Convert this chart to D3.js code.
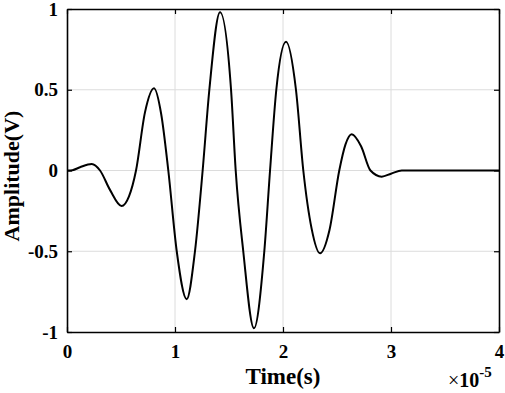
<!DOCTYPE html>
<html lang="en">
<head>
<meta charset="UTF-8">
<script src="https://cdn.jsdelivr.net/npm/d3@7"></script>
<style>
    body { margin: 0; background: #fff; }
    svg { display: block; font-family: "Liberation Serif", "Times New Roman", serif; font-weight: bold; }
    .grid line { stroke: #dcdcdc; stroke-width: 1; }
</style>
</head>
<body>
<div id="container"></div>
<script>
    // time in units of 1e-5 s, amplitude in V
    const timeVals = [0, 0.05, 0.12, 0.229, 0.306, 0.398, 0.505, 0.574, 0.639, 0.722, 0.806, 0.872, 0.938,
        1.016, 1.108, 1.185, 1.256, 1.318, 1.417, 1.519, 1.562, 1.632, 1.731, 1.827, 1.880,
        1.938, 2.028, 2.120, 2.188, 2.265, 2.343, 2.43, 2.521, 2.578, 2.636, 2.723, 2.810,
        2.914, 3.0, 3.10, 3.5, 4.0]
    const ampVals = [0, 0.002, 0.02, 0.04, 0, -0.12, -0.22, -0.16, 0, 0.36, 0.509, 0.35, 0,
        -0.5, -0.797, -0.5, 0, 0.5, 0.98, 0.5, 0, -0.5, -0.977, -0.5, 0,
        0.5, 0.797, 0.5, 0, -0.36, -0.513, -0.37, 0, 0.16, 0.224, 0.15, 0,
        -0.038, -0.02, 0, 0, 0]
    const xTicks = [0, 1, 2, 3, 4]
    const yTicks = [-1, -0.5, 0, 0.5, 1]
    const yTickLabels = ["-1", "-0.5", "0", "0.5", "1"]

    const W = 505, H = 393
    const margin = {left: 67, right: 6, top: 9, bottom: 61}
    const iw = W - margin.left - margin.right
    const ih = H - margin.top - margin.bottom

    const svg = d3.select("#container").append("svg")
        .attr("width", W).attr("height", H)

    const g = svg.append("g").attr("transform", `translate(${margin.left},${margin.top})`)

    const x = d3.scaleLinear().domain([0, 4]).range([0, iw])
    const y = d3.scaleLinear().domain([-1, 1]).range([ih, 0])

    // grid
    const grid = g.append("g").attr("class", "grid")
    grid.selectAll(".gx").data(xTicks.slice(1, -1)).enter().append("line")
        .attr("x1", d => x(d)).attr("x2", d => x(d)).attr("y1", 0).attr("y2", ih)
    grid.selectAll(".gy").data(yTicks.slice(1, -1)).enter().append("line")
        .attr("x1", 0).attr("x2", iw).attr("y1", d => y(d)).attr("y2", d => y(d))

    // the signal
    const pts = timeVals.map((t, i) => [t, ampVals[i]])
    g.append("path")
        .datum(pts)
        .attr("fill", "none")
        .attr("stroke", "#000")
        .attr("stroke-width", 2)
        .attr("d", d3.line().x(d => x(d[0])).y(d => y(d[1])).curve(d3.curveMonotoneX))

    // axes with inward ticks (box on)
    const tk = 5
    const axBottom = g.append("g").attr("transform", `translate(0,${ih})`)
        .call(d3.axisBottom(x).tickValues(xTicks).tickSizeInner(-tk).tickSizeOuter(0).tickPadding(13).tickFormat(d3.format("d")))
    const axTop = g.append("g")
        .call(d3.axisTop(x).tickValues(xTicks).tickSizeInner(-tk).tickSizeOuter(0).tickFormat(""))
    const axLeft = g.append("g")
        .call(d3.axisLeft(y).tickValues(yTicks).tickSizeInner(-tk).tickSizeOuter(0).tickPadding(9)
            .tickFormat((d, i) => yTickLabels[i]))
    const axRight = g.append("g").attr("transform", `translate(${iw},0)`)
        .call(d3.axisRight(y).tickValues(yTicks).tickSizeInner(-tk).tickSizeOuter(0).tickFormat(""))

    ;[axBottom, axTop, axLeft, axRight].forEach(a => {
        a.select(".domain").attr("stroke", "#000").attr("stroke-width", 1.6)
        a.selectAll(".tick line").attr("stroke", "#000").attr("stroke-width", 1.2)
        a.selectAll("text").attr("fill", "#000")
            .style("font-family", "'Liberation Serif', serif")
            .style("font-weight", "bold").style("font-size", "19px")
    })

    // titles
    svg.append("text")
        .attr("x", margin.left + x(2)).attr("y", 384)
        .attr("text-anchor", "middle")
        .style("font-size", "23px")
        .text("Time(s)")

    svg.append("text")
        .attr("transform", "translate(19,176) rotate(-90)")
        .attr("text-anchor", "middle")
        .style("font-size", "22px")
        .text("Amplitude(V)")

    const mult = svg.append("text")
        .attr("x", 448).attr("y", 387)
        .style("font-size", "20px")
        .style("font-weight", "normal")
    mult.append("tspan").text("\u00d7")
    mult.append("tspan").style("font-weight", "bold").text("10")
    mult.append("tspan").attr("dy", -10).style("font-size", "15px").style("font-weight", "bold").text("-5")
</script>
</body>
</html>
